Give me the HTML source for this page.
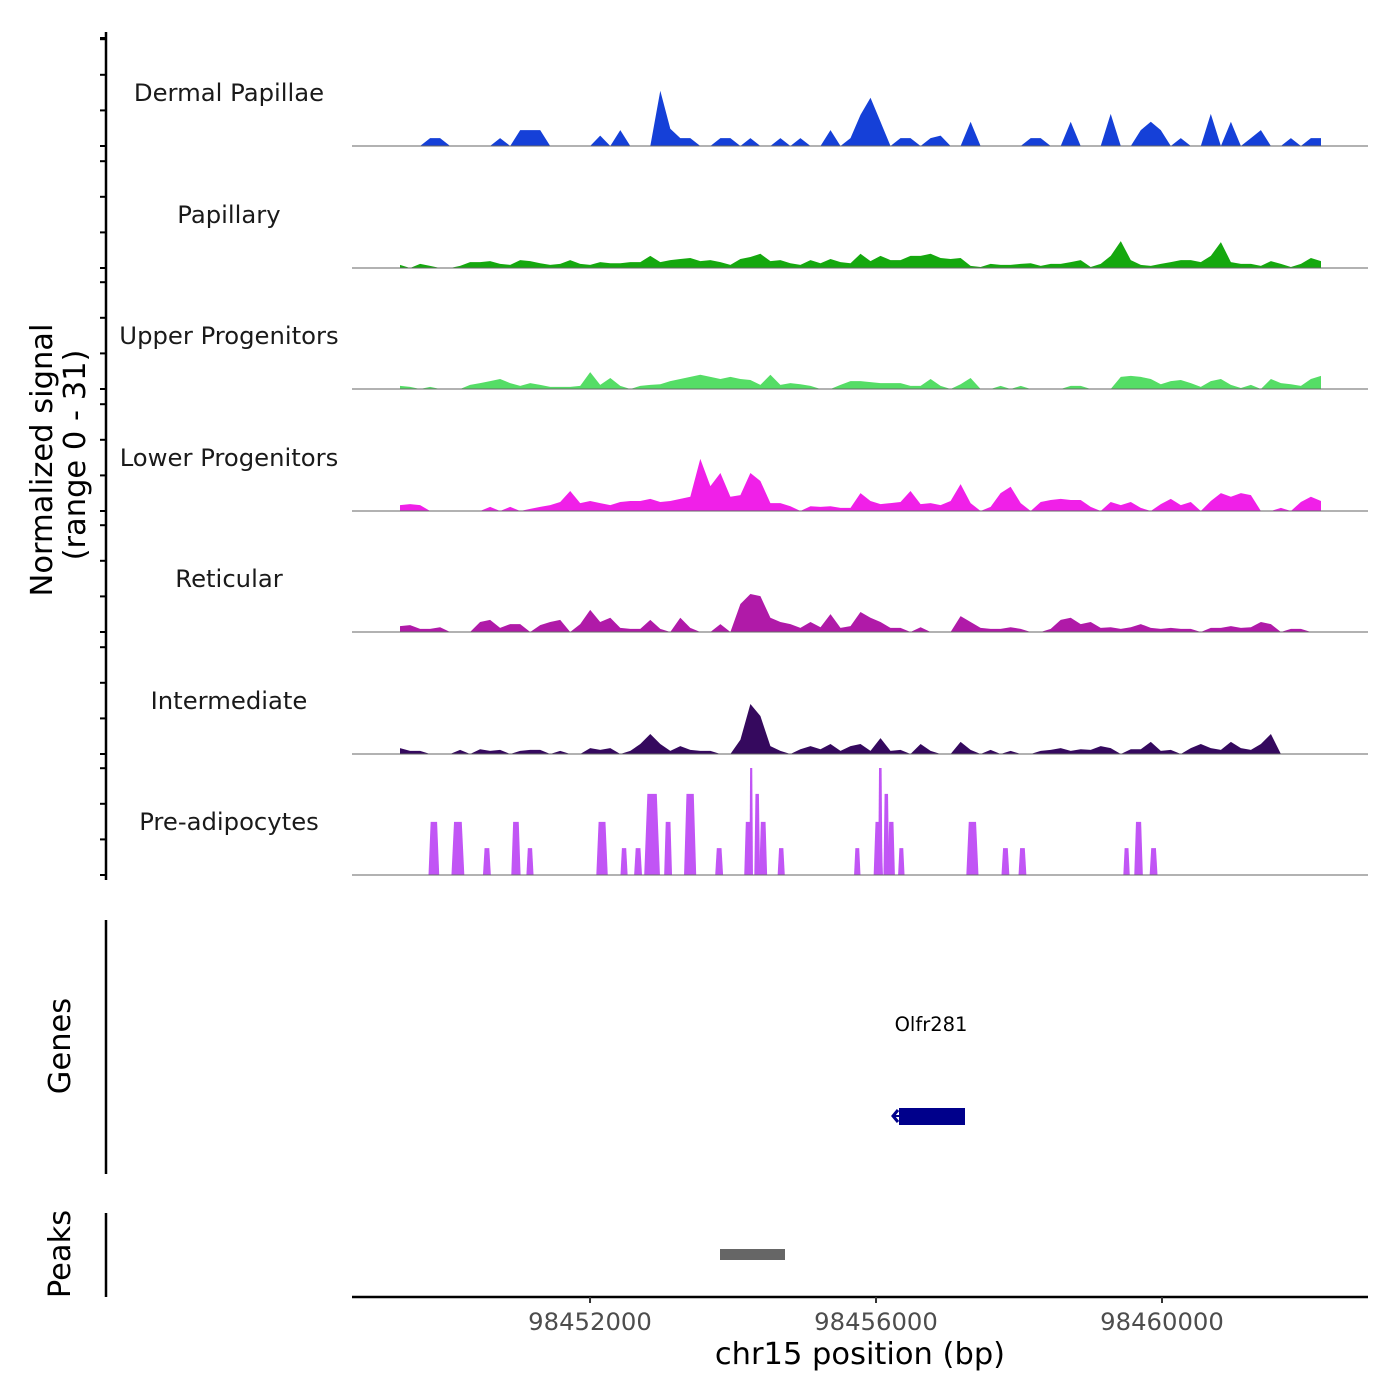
<!DOCTYPE html>
<html><head><meta charset="utf-8"><style>
html,body{margin:0;padding:0;background:#fff;}
svg{display:block;font-family:"DejaVu Sans","Liberation Sans",sans-serif;}
</style></head><body>
<svg id="chart" width="1400" height="1400" viewBox="0 0 1400 1400" xmlns="http://www.w3.org/2000/svg">
<rect width="1400" height="1400" fill="#fff"/>
<g id="tracks"></g>
<g id="axes"></g>
<text transform="translate(52,460) rotate(-90)" text-anchor="middle" font-size="30.5" fill="#000">Normalized signal</text>
<text transform="translate(85,455) rotate(-90)" text-anchor="middle" font-size="30.5" fill="#000">(range 0 - 31)</text>
<text transform="translate(70,1046) rotate(-90)" text-anchor="middle" font-size="30.5" fill="#000">Genes</text>
<text transform="translate(70,1254) rotate(-90)" text-anchor="middle" font-size="30.5" fill="#000">Peaks</text>
<text x="860" y="1364" text-anchor="middle" font-size="30.5" fill="#000">chr15 position (bp)</text>
<text x="931" y="1031" text-anchor="middle" font-size="19.5" fill="#000">Olfr281</text>
<g>
<line x1="893" y1="1116" x2="965" y2="1116" stroke="#00008b" stroke-width="2"/>
<polyline points="898,1110 893,1116 898,1122" fill="none" stroke="#00008b" stroke-width="3"/>
<rect x="899" y="1108" width="66" height="17" fill="#00008b"/>
</g>
<rect x="720" y="1249" width="65" height="11" fill="#666"/>
</svg>
<script>
const region = [98448671, 98462881];
const binStart = 98449343;
const binSize = 140;
const signalMax = 31;
const trackNames = ["Dermal Papillae","Papillary","Upper Progenitors","Lower Progenitors","Reticular","Intermediate","Pre-adipocytes"];
const trackColors = ["#1540d8","#15a80f","#55dd66","#f020e8","#b01aa8","#35095e","#c155f5"];
const xTicks = [98452000, 98456000, 98460000];

const dermal = [0,0,0,2.3,2.3,0,0,0,0,0, 2.3,0,4.6,4.6,4.6,0,0,0,0,0, 3,0,4.6,0,0,0,16,5,2.3,2.3, 0,0,2.3,2.3,0,2.3,0,0,2.3,0, 2.3,0,0,4.6,0,2.3,9,14,7,0, 2.3,2.3,0,2.3,3,0,0,7,0,0, 0,0,0,2.3,2.3,0,0,7,0,0, 0,9.3,0,0,4.6,7,4.6,0,2.3,0, 0,9.3,0,7,0,2.3,4.6,0,0,2.3, 0,2.3,2.3];
const papillary = [0.9,0,1.2,0.6,0,0,0.6,1.7,1.7,2, 1.2,0.9,2.3,2,1.4,0.9,1.2,2.3,1.2,0.9, 1.7,1.4,1.4,1.7,1.7,3.5,1.7,2.3,2.6,2.9, 2,2.3,1.7,0.9,2.6,3.2,4.1,2,2.3,1.4, 0.9,2.3,1.4,2.6,1.7,1.4,4.1,2,3.5,2.3, 2.3,3.5,3.5,4.1,2.9,2.6,2.9,0.6,0.3,1.2, 0.9,0.9,1.2,1.4,0.6,1.2,1.2,1.7,2.3,0.3, 1.2,3.5,7.8,2.3,0.9,0.6,1.2,1.7,2.3,2.3, 1.7,3.5,7.5,1.7,1.2,1.2,0.6,2,1.2,0.3, 1.2,2.9,2];
const upper = [0.9,0.6,0,0.6,0,0,0,1.2,1.7,2.3, 2.9,1.7,0.9,1.7,1.2,0.6,0.6,0.6,0.9,4.9, 1.2,3.2,0.9,0,0.9,1.2,1.4,2.3,2.9,3.5, 4.1,3.5,2.9,3.5,2.9,2.6,1.2,4.1,1.2,1.7, 1.4,0.9,0,0,1.2,2.3,2.3,2,1.7,1.7, 1.7,0.9,0.9,2.9,0.9,0,1.4,3.2,0,0, 0.9,0,0.9,0,0,0,0,0.9,0.9,0, 0,0,3.5,3.8,3.5,2.9,1.4,2.3,2.6,1.7, 0.6,2.3,2.9,1.2,0.3,1.2,0,2.9,1.7,1.4, 0.9,2.9,3.8];
const lower = [1.7,2,1.7,0,0,0,0,0,0,1.2, 0,1.2,0,0.6,1.2,1.7,2.6,5.8,2.3,2.9, 2.3,1.7,2.6,2.9,2.9,3.5,2.6,2.9,3.5,4.1, 15.1,7.2,11,4.1,4.6,11,8.7,2.3,2.3,1.4, 0,1.4,1.2,1.4,0.9,0.9,5.2,2.9,2,2.3, 2.6,5.8,2,2.3,1.7,2.9,7.8,2.3,0,1.2, 5.2,7,2.3,0,2.6,3.2,3.5,3.2,3.2,1.2, 0,2.6,1.7,2.6,0.9,0,2,3.5,1.7,2.6, 0,2.9,5.2,4.1,5.2,4.6,0,0,0.9,0, 2.6,4.1,2.9];
const reticular = [1.7,2,0.9,0.9,1.4,0,0,0,2.9,3.5, 1.2,2.3,2.3,0,2,2.9,3.5,0,2.3,6.4, 2.9,4.1,1.2,0.9,0.9,3.5,0.9,0,4.1,1.2, 0,0,2.3,0,8.1,11,10.4,4.1,2.9,2.3, 1.2,2.9,1.4,5.2,1.2,1.7,5.8,4.1,2.9,1.2, 1.2,0,1.4,0,0,0,4.6,2.9,1.2,0.9, 0.9,1.4,0.9,0,0,0.9,3.5,4.1,2.3,2.9, 1.2,1.4,0.9,1.4,2.3,1.2,0.9,1.2,0.9,0.9, 0,1.2,1.2,1.7,1.2,1.4,2.9,2.3,0,0.9, 0.9,0,0];
const intermediate = [1.7,0.9,0.9,0,0,0,1.2,0,1.4,0.9, 1.2,0,0.9,1.2,1.2,0,0.9,0,0,1.7, 1.2,1.7,0,0.9,2.9,5.8,2.9,0.9,2.3,1.2, 0.9,0.9,0,0,4.1,14.5,11,2.3,0.9,0, 1.4,2.3,1.4,2.9,0.9,2.3,2.9,0.9,4.6,0.9, 1.2,0,2.9,0.9,0,0,3.5,1.2,0,1.2, 0,0.9,0,0,0.9,1.2,1.7,0.9,1.4,1.2, 2.3,1.7,0,1.4,1.4,3.5,0.9,1.2,0,1.7, 2.9,1.7,1.2,3.5,1.7,1.2,2.9,5.8,0,0, 0,0,0];
const preCenters = [98449816,98450152,98450558,98450964,98451160,98452168,98452476,98452672,98452868,98453092,98453400,98453806,98454212,98454254,98454338,98454422,98454674,98455738,98456032,98456060,98456144,98456214,98456354,98457348,98457810,98458048,98459504,98459672,98459882];
const preHeights = [15.4,15.4,7.8,15.4,7.8,15.4,7.8,7.8,23.5,15.4,23.5,7.8,15.4,31,23.5,15.4,7.8,7.8,15.4,31,23.5,15.4,7.8,15.4,7.8,7.8,7.8,15.4,7.8];
const preWidths = [150,180,110,130,100,160,100,110,220,110,170,110,110,50,80,110,100,90,130,60,80,100,90,170,110,110,90,120,110];

const binnedTracks = [dermal,papillary,upper,lower,reticular,intermediate];
const NS="http://www.w3.org/2000/svg";
const X0=352, X1=1368;
const baselines=[146,268,389,511,632,754,875];
const trackH=107;
function xs(v){return X0+(v-region[0])/(region[1]-region[0])*(X1-X0);}
function ys(v,b){return b - v/signalMax*trackH;}
function mk(tag,attrs,parent){const e=document.createElementNS(NS,tag);for(const k in attrs)e.setAttribute(k,attrs[k]);parent.appendChild(e);return e;}
const tracks=document.getElementById('tracks');
const axes=document.getElementById('axes');

trackNames.forEach((name,t)=>{
  const b=baselines[t];
  const g=mk('g',{},tracks);
  
  
  const lab=mk('text',{x:229,y:b-45,'text-anchor':'middle','font-size':24.3,fill:'#1a1a1a'},g);
  lab.textContent=name;
  
  
  if(t<6){
    const vals=binnedTracks[t];
    let d='M'+xs(binStart).toFixed(1)+','+b;
    vals.forEach((v,i)=>{d+=' L'+xs(binStart+i*binSize).toFixed(1)+','+ys(v,b).toFixed(1);});
    d+=' L'+xs(binStart+(vals.length-1)*binSize).toFixed(1)+','+b+' Z';
    const p=mk('path',{d:d,fill:trackColors[t]},g);
    
    
  } else {
    preCenters.forEach((c,i)=>{
      const w=preWidths[i], h=preHeights[i];
      const xl=xs(c-w/2), xr=xs(c+w/2), tl=xs(c-w*0.3), tr=xs(c+w*0.3);
      const p=mk('polygon',{points:`${xl},${b} ${tl},${ys(h,b)} ${tr},${ys(h,b)} ${xr},${b}`,fill:trackColors[t]},g);
      
      
    });
  }
  const bl=mk('line',{x1:X0,x2:X1,y1:b,y2:b,stroke:'#666','stroke-width':1},g);
  
  
  for(let k=0;k<4;k++){
    const ty=b-k*35.6;
    const tk=mk('line',{x1:100,x2:106,y1:ty,y2:ty,stroke:'#000','stroke-width':2},axes);
    
    
  }
});
const ya=mk('line',{x1:106,x2:106,y1:32,y2:880,stroke:'#000','stroke-width':2.5},axes);


const topTick=mk('line',{x1:100,x2:106,y1:38,y2:38,stroke:'#000','stroke-width':2},axes);


const ga=mk('line',{x1:106,x2:106,y1:920,y2:1174,stroke:'#000','stroke-width':2.5},axes);


const pa=mk('line',{x1:106,x2:106,y1:1213,y2:1297,stroke:'#000','stroke-width':2.5},axes);


const xa=mk('line',{x1:X0,x2:X1,y1:1297,y2:1297,stroke:'#000','stroke-width':2.5},axes);


xTicks.forEach(v=>{
  const x=xs(v);
  const tk=mk('line',{x1:x,x2:x,y1:1297,y2:1303,stroke:'#333','stroke-width':2},axes);
  
  
  const tl=mk('text',{x:x,y:1330,'text-anchor':'middle','font-size':24.3,fill:'#4d4d4d'},axes);
  tl.textContent=String(v);
  
  
});
</script>
</body></html>
